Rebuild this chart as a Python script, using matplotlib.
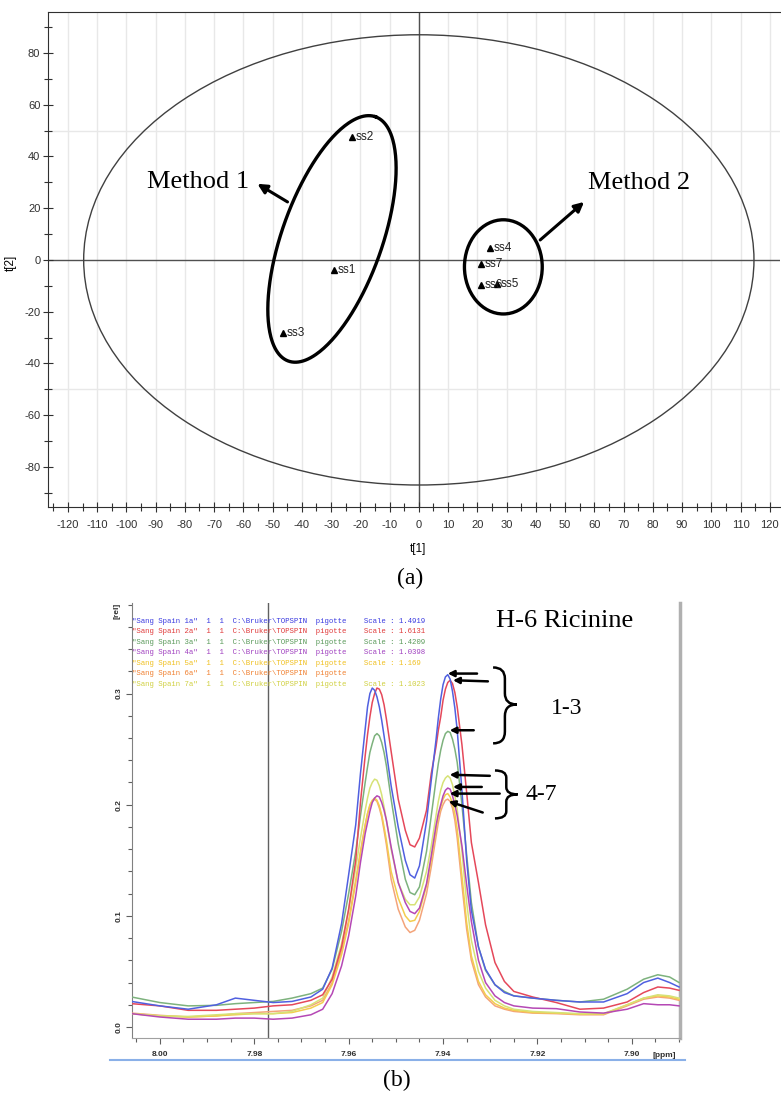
import numpy as np
import matplotlib.pyplot as plt
from matplotlib.patches import Ellipse, PathPatch
from matplotlib.path import Path
from matplotlib.lines import Line2D
from matplotlib.ticker import MultipleLocator

plt.rcParams['font.family'] = ['Liberation Sans', 'DejaVu Sans']
plt.rcParams['axes.unicode_minus'] = False

# ---- (a) PCA score plot ----
samples = ['ss1', 'ss2', 'ss3', 'ss4', 'ss5', 'ss6', 'ss7']
t1 = [-28.9, -22.7, -46.3, 24.4, 26.8, 21.4, 21.4]
t2 = [-3.9, 47.6, -28.2, 4.6, -9.3, -9.7, -1.5]
hotelling_axes = (114.6, 87.0)

# ---- (b) 1H NMR overlay, H-6 ricinine ----
ppm = [8.006, 8.000, 7.994, 7.988, 7.984, 7.980, 7.976, 7.972, 7.968, 7.9655,
       7.9635, 7.9615, 7.960, 7.9585, 7.9575, 7.9565, 7.956, 7.9555, 7.955, 7.9545,
       7.954, 7.9535, 7.953, 7.9525, 7.952,
       7.951, 7.9495, 7.948, 7.947, 7.946, 7.945, 7.9435, 7.9425, 7.9415,
       7.941, 7.9405, 7.940, 7.9395, 7.939, 7.9385, 7.938, 7.9375, 7.937, 7.936,
       7.935, 7.934, 7.9325, 7.931, 7.929, 7.927, 7.925,
       7.921, 7.916, 7.911, 7.906, 7.901, 7.8975, 7.8945, 7.892, 7.890]

sang1a = [0.023, 0.019, 0.016, 0.020, 0.026, 0.024, 0.022, 0.023, 0.027, 0.034,
          0.053, 0.093, 0.137, 0.182, 0.228, 0.268, 0.288, 0.300, 0.305, 0.303,
          0.297, 0.288, 0.276, 0.262, 0.247,
          0.217, 0.180, 0.150, 0.137, 0.134, 0.145, 0.185, 0.222, 0.258,
          0.278, 0.295, 0.308, 0.315, 0.317, 0.313, 0.302, 0.287, 0.267, 0.213,
          0.150, 0.105, 0.072, 0.052, 0.038, 0.031, 0.028,
          0.026, 0.024, 0.0225, 0.0225, 0.030, 0.040, 0.044, 0.040, 0.036]
sang2a = [0.021, 0.019, 0.015, 0.015, 0.016, 0.017, 0.019, 0.020, 0.024, 0.029,
          0.043, 0.072, 0.106, 0.150, 0.202, 0.244, 0.263, 0.279, 0.292, 0.300,
          0.305, 0.304, 0.299, 0.290, 0.277,
          0.248, 0.205, 0.177, 0.164, 0.162, 0.170, 0.195, 0.228, 0.252,
          0.267, 0.279, 0.294, 0.304, 0.310, 0.312, 0.309, 0.301, 0.288, 0.254,
          0.211, 0.166, 0.130, 0.092, 0.058, 0.041, 0.032,
          0.027, 0.022, 0.016, 0.017, 0.0225, 0.031, 0.036, 0.035, 0.033]
sang3a = [0.027, 0.022, 0.019, 0.0195, 0.021, 0.022, 0.023, 0.026, 0.030, 0.035,
          0.052, 0.086, 0.120, 0.158, 0.190, 0.220, 0.234, 0.247, 0.255, 0.262,
          0.264, 0.262, 0.256, 0.247, 0.235,
          0.205, 0.165, 0.133, 0.121, 0.119, 0.126, 0.158, 0.190, 0.222,
          0.237, 0.249, 0.258, 0.264, 0.266, 0.265, 0.259, 0.250, 0.238, 0.200,
          0.155, 0.112, 0.072, 0.051, 0.038, 0.032, 0.028,
          0.026, 0.024, 0.0225, 0.025, 0.034, 0.043, 0.047, 0.045, 0.040]
sang4a = [0.012, 0.009, 0.007, 0.007, 0.008, 0.008, 0.007, 0.008, 0.011, 0.016,
          0.030, 0.055, 0.082, 0.118, 0.148, 0.174, 0.184, 0.194, 0.202, 0.206,
          0.208, 0.207, 0.202, 0.195, 0.186,
          0.162, 0.130, 0.112, 0.104, 0.102, 0.107, 0.129, 0.154, 0.181,
          0.192, 0.200, 0.208, 0.213, 0.215, 0.214, 0.208, 0.200, 0.190, 0.163,
          0.128, 0.095, 0.060, 0.040, 0.028, 0.022, 0.019,
          0.017, 0.0165, 0.0135, 0.0125, 0.016, 0.021, 0.020, 0.020, 0.019]
sang5a = [0.012, 0.010, 0.009, 0.010, 0.011, 0.012, 0.012, 0.013, 0.017, 0.022,
          0.038, 0.065, 0.093, 0.130, 0.156, 0.181, 0.192, 0.200, 0.204, 0.206,
          0.204, 0.199, 0.191, 0.180, 0.168,
          0.140, 0.116, 0.100, 0.095, 0.096, 0.104, 0.127, 0.150, 0.177,
          0.190, 0.198, 0.205, 0.209, 0.210, 0.207, 0.201, 0.192, 0.178, 0.136,
          0.094, 0.064, 0.041, 0.029, 0.021, 0.017, 0.015,
          0.013, 0.0125, 0.0115, 0.0115, 0.020, 0.026, 0.028, 0.027, 0.025]
sang6a = [0.0125, 0.0105, 0.009, 0.010, 0.012, 0.013, 0.014, 0.015, 0.019, 0.024,
          0.040, 0.068, 0.096, 0.132, 0.158, 0.182, 0.192, 0.199, 0.203, 0.205,
          0.203, 0.197, 0.189, 0.177, 0.164,
          0.133, 0.106, 0.090, 0.085, 0.087, 0.096, 0.120, 0.144, 0.171,
          0.184, 0.194, 0.200, 0.204, 0.205, 0.203, 0.197, 0.186, 0.170, 0.128,
          0.088, 0.060, 0.038, 0.027, 0.019, 0.016, 0.014,
          0.0125, 0.012, 0.011, 0.011, 0.019, 0.025, 0.027, 0.026, 0.024]
sang7a = [0.012, 0.010, 0.0095, 0.011, 0.012, 0.012, 0.012, 0.014, 0.020, 0.026,
          0.045, 0.075, 0.105, 0.143, 0.170, 0.195, 0.206, 0.215, 0.220, 0.223,
          0.222, 0.217, 0.209, 0.198, 0.186,
          0.160, 0.130, 0.115, 0.110, 0.110, 0.117, 0.140, 0.163, 0.190,
          0.203, 0.213, 0.220, 0.224, 0.226, 0.224, 0.218, 0.208, 0.196, 0.158,
          0.112, 0.078, 0.050, 0.035, 0.024, 0.019, 0.016,
          0.014, 0.013, 0.012, 0.012, 0.020, 0.026, 0.029, 0.028, 0.026]

names = ['Sang Spain 1a', 'Sang Spain 2a', 'Sang Spain 3a', 'Sang Spain 4a',
         'Sang Spain 5a', 'Sang Spain 6a', 'Sang Spain 7a']
scales = ['1.4919', '1.6131', '1.4209', '1.0398', '1.169', '', '1.1023']
line_colors = ['#5060e0', '#e5485a', '#7db27d', '#b548b5', '#f3cd4e', '#f4a47a', '#d6e276']
text_colors = ['#3a3ae0', '#e03a3a', '#5a9a5a', '#a040c0', '#f0c020', '#f08030', '#d0d040']

W, H = 781, 1098
fig = plt.figure(figsize=(W / 100, H / 100), dpi=100)

# ================= panel (a) =================
ax1 = fig.add_axes([48 / W, 1 - 507 / H, (780 - 48) / W, (507 - 12) / H])
ax1.set_xlim(-126.8, 123.5)
ax1.set_ylim(-95.5, 95.8)

for gx in range(-120, 121, 10):
    ax1.axvline(gx, color='#e8e8e8', lw=1, zorder=0)
for gy in (-50, 50):
    ax1.axhline(gy, color='#e8e8e8', lw=1, zorder=0)
ax1.axhline(0, color='#505050', lw=1, zorder=1)
ax1.axvline(0, color='#505050', lw=1, zorder=1)

ax1.add_patch(Ellipse((0, 0), 2 * hotelling_axes[0], 2 * hotelling_axes[1],
                      fill=False, ec='#404040', lw=1, zorder=2))

ax1.plot(t1, t2, '^', color='black', ms=4.5, zorder=4)
for name, x, y in zip(samples, t1, t2):
    ax1.annotate(name, (x, y), xytext=(2.5, 0), textcoords='offset points',
                 va='center', ha='left', fontsize=8.5, color='#202020', zorder=5)

# hand drawn group ellipses
th = np.linspace(0, 2 * np.pi, 300)
ax1.plot(-29.7 + 14.9 * np.cos(th) + 16.1 * np.sin(th),
         8.1 + 47.2 * np.cos(th) - 6.5 * np.sin(th), color='black', lw=2.4, zorder=3)
ax1.add_patch(Ellipse((28.9, -2.7), 2 * 13.3, 2 * 18.2, fill=False, ec='black', lw=2.4, zorder=3))

serif = ['Liberation Serif', 'DejaVu Serif']
ax1.text(-93.1, 30.2, 'Method 1', family=serif, fontsize=19, va='center', ha='left')
ax1.text(57.9, 29.8, 'Method 2', family=serif, fontsize=19, va='center', ha='left')
arrow_a = dict(arrowstyle='-|>', color='black', lw=2.2, mutation_scale=14, shrinkA=0, shrinkB=0)
ax1.annotate('', xy=(-55.2, 29.4), xytext=(-44.9, 22.4), arrowprops=arrow_a)
ax1.annotate('', xy=(56.5, 22.4), xytext=(41.5, 7.7), arrowprops=arrow_a)

ax1.set_xticks(np.arange(-120, 121, 10))
ax1.xaxis.set_minor_locator(MultipleLocator(5))
ax1.set_yticks(np.arange(-80, 81, 20))
ax1.yaxis.set_minor_locator(MultipleLocator(10))
ax1.tick_params(which='both', direction='inout', colors='#303030', width=0.8, labelsize=8)
ax1.tick_params(which='major', length=7)
ax1.tick_params(which='minor', length=6)
ax1.tick_params(axis='x', pad=6)
ax1.tick_params(axis='y', pad=2)
for s in ('left', 'bottom', 'top'):
    ax1.spines[s].set_color('#303030')
ax1.spines['right'].set_visible(False)
ax1.set_xlabel('t[1]', fontsize=8.5)
ax1.set_ylabel('t[2]', fontsize=8.5)
ax1.xaxis.set_label_coords(0.505, -0.073)
ax1.yaxis.set_label_coords(-0.043, 0.493)

fig.text(410 / W, 1 - 578 / H, '(a)', family=serif, fontsize=17, ha='center', va='center')

# ================= panel (b) =================
ax2 = fig.add_axes([132 / W, 1 - 1038 / H, (680 - 132) / W, (1038 - 603) / H])
ax2.set_xlim(8.0059, 7.8898)
ax2.set_ylim(-0.0099, 0.3815)

series = [sang6a, sang5a, sang7a, sang4a, sang3a, sang2a, sang1a]
order = [5, 4, 6, 3, 2, 1, 0]
for idx, vals in zip(order, series):
    ax2.plot(ppm, vals, color=line_colors[idx], lw=1.1, zorder=3)

ax2.axvline(7.9771, color='#606060', lw=1, zorder=2)

for i, (nm, sc, c) in enumerate(zip(names, scales, text_colors)):
    line = '"%s"  1  1  C:\\Bruker\\TOPSPIN  pigotte' % nm
    if sc:
        line += '    Scale : ' + sc
    ax2.text(0.0, 0.958 - i * 0.0241, line, transform=ax2.transAxes,
             family=['Liberation Mono', 'DejaVu Sans Mono'], fontsize=5.3,
             color=c, va='center', ha='left')

ax2.text(7.9288, 0.3657, 'H-6 Ricinine', family=serif, fontsize=19, va='center', ha='left')


def brace(ax, x0, xtip, ytop, ymid, ybot):
    xm = x0 + (xtip - x0) * 0.5
    r1 = (ytop - ymid) * 0.3
    r2 = (ymid - ybot) * 0.3
    verts = [(x0, ytop), (xm, ytop), (xm, ytop - r1), (xm, ymid + r1),
             (xm, ymid), (xtip, ymid), (xm, ymid), (xm, ymid - r2),
             (xm, ybot + r2), (xm, ybot), (x0, ybot)]
    codes = [Path.MOVETO, Path.CURVE3, Path.CURVE3, Path.LINETO,
             Path.CURVE3, Path.CURVE3, Path.CURVE3, Path.CURVE3,
             Path.LINETO, Path.CURVE3, Path.CURVE3]
    ax.add_patch(PathPatch(Path(verts, codes), fill=False, lw=1.8, ec='black', zorder=5))


brace(ax2, 7.9294, 7.9244, 0.3235, 0.2902, 0.2552)
brace(ax2, 7.9290, 7.9242, 0.2308, 0.2093, 0.1877)
ax2.text(7.9172, 0.2867, '1-3', family=serif, fontsize=17, va='center', ha='left')
ax2.text(7.9225, 0.2093, '4-7', family=serif, fontsize=17, va='center', ha='left')

arrow_b = dict(arrowstyle='-|>', color='black', lw=1.8, mutation_scale=9, shrinkA=0, shrinkB=0)
heads = [(7.9390, 0.318), (7.9379, 0.312), (7.9386, 0.267), (7.9386, 0.227),
         (7.9379, 0.216), (7.9386, 0.210), (7.9388, 0.203)]
tails = [(7.9328, 0.318), (7.9305, 0.311), (7.9335, 0.267), (7.9301, 0.226),
         (7.9318, 0.216), (7.9280, 0.210), (7.9316, 0.193)]
for hd, tl in zip(heads, tails):
    ax2.annotate('', xy=hd, xytext=tl, arrowprops=arrow_b, zorder=6)

ax2.set_xticks([8.00, 7.98, 7.96, 7.94, 7.92, 7.90])
ax2.set_xticklabels(['8.00', '7.98', '7.96', '7.94', '7.92', '7.90'])
ax2.xaxis.set_minor_locator(MultipleLocator(0.005))
ax2.set_yticks([0.0, 0.1, 0.2, 0.3])
ax2.set_yticklabels(['0.0', '0.1', '0.2', '0.3'])
ax2.yaxis.set_minor_locator(MultipleLocator(0.02))
ax2.tick_params(which='both', direction='out', colors='#606060', width=0.8,
                labelsize=6, labelcolor='#303030')
ax2.tick_params(which='major', length=4)
ax2.tick_params(which='minor', length=3)
ax2.tick_params(axis='y', labelrotation=90, pad=3)
ax2.tick_params(axis='x', pad=5)
for lab in ax2.get_xticklabels() + ax2.get_yticklabels():
    lab.set_fontweight('bold')
for lab in ax2.get_yticklabels():
    lab.set_va('center')
ax2.spines['top'].set_visible(False)
ax2.spines['left'].set_color('#808080')
ax2.spines['bottom'].set_color('#a0a0a0')
ax2.spines['right'].set_color('#b0b0b0')
ax2.spines['right'].set_linewidth(2.5)
ax2.text(-0.027, 1.0, '[rel]', transform=ax2.transAxes, rotation=90, fontsize=6,
         fontweight='bold', color='#303030', ha='center', va='top')
ax2.text(0.972, -0.032, '[ppm]', transform=ax2.transAxes, fontsize=6,
         fontweight='bold', color='#303030', ha='center', va='top')

fig.add_artist(Line2D([110 / W, 685 / W], [1 - 1060 / H, 1 - 1060 / H],
                      transform=fig.transFigure, color='#8ab0e8', lw=1.5))
fig.text(397 / W, 1 - 1080 / H, '(b)', family=serif, fontsize=17, ha='center', va='center')

fig.savefig('out.png', dpi=100)
